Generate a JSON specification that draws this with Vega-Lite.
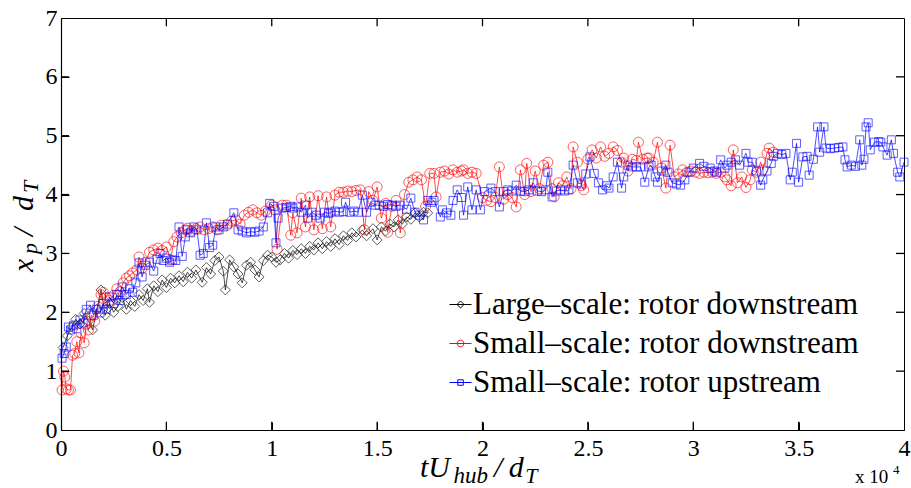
{
  "$schema": "https://vega.github.io/schema/vega-lite/v6.json",
  "width": 843,
  "height": 412,
  "autosize": {"type": "none"},
  "padding": {"left": 61, "top": 18, "right": 7, "bottom": 58},
  "background": "white",
  "config": {
    "view": {"stroke": "black", "strokeWidth": 1},
    "axis": {"grid": false, "ticks": true, "labelFont": "Liberation Serif", "labelFontSize": 24, "labelColor": "black", "domainColor": "black", "tickColor": "black", "domainWidth": 1.2, "tickWidth": 1}
  },
  "datasets": {
    "black": [
      {"t":0.01,"xp":1.40},{"t":0.03,"xp":1.60},{"t":0.05,"xp":1.75},{"t":0.07,"xp":1.88},{"t":0.09,"xp":1.80},{"t":0.11,"xp":1.98},{"t":0.13,"xp":1.85},{"t":0.15,"xp":1.70},{"t":0.17,"xp":2.05},{"t":0.19,"xp":2.38},
      {"t":0.21,"xp":1.95},{"t":0.23,"xp":2.15},{"t":0.25,"xp":2.00},{"t":0.27,"xp":2.10},{"t":0.29,"xp":2.25},{"t":0.31,"xp":2.05},{"t":0.33,"xp":2.20},{"t":0.35,"xp":2.10},{"t":0.37,"xp":2.30},{"t":0.39,"xp":2.20},
      {"t":0.41,"xp":2.40},{"t":0.42,"xp":2.17},{"t":0.44,"xp":2.45},{"t":0.46,"xp":2.35},{"t":0.48,"xp":2.55},{"t":0.50,"xp":2.42},{"t":0.52,"xp":2.58},{"t":0.54,"xp":2.50},{"t":0.56,"xp":2.62},{"t":0.58,"xp":2.52},
      {"t":0.60,"xp":2.68},{"t":0.62,"xp":2.58},{"t":0.64,"xp":2.72},{"t":0.67,"xp":2.51},{"t":0.69,"xp":2.76},{"t":0.71,"xp":2.65},{"t":0.73,"xp":2.88},{"t":0.75,"xp":2.94},{"t":0.77,"xp":2.70},{"t":0.78,"xp":2.38},
      {"t":0.80,"xp":2.89},{"t":0.82,"xp":2.77},{"t":0.84,"xp":2.65},{"t":0.86,"xp":2.50},{"t":0.88,"xp":2.80},{"t":0.90,"xp":2.85},{"t":0.92,"xp":2.72},{"t":0.94,"xp":2.60},{"t":0.96,"xp":2.88},{"t":0.98,"xp":2.97},
      {"t":1.00,"xp":2.94},{"t":1.02,"xp":2.85},{"t":1.04,"xp":2.89},{"t":1.06,"xp":3.00},{"t":1.08,"xp":2.92},{"t":1.10,"xp":3.05},{"t":1.12,"xp":2.98},{"t":1.14,"xp":3.08},{"t":1.16,"xp":3.00},{"t":1.18,"xp":3.12},
      {"t":1.20,"xp":3.06},{"t":1.22,"xp":3.18},{"t":1.24,"xp":3.08},{"t":1.26,"xp":3.20},{"t":1.28,"xp":3.12},{"t":1.30,"xp":3.25},{"t":1.32,"xp":3.15},{"t":1.34,"xp":3.30},{"t":1.36,"xp":3.22},{"t":1.38,"xp":3.35},
      {"t":1.40,"xp":3.28},{"t":1.43,"xp":3.40},{"t":1.45,"xp":3.30},{"t":1.48,"xp":3.42},{"t":1.50,"xp":3.23},{"t":1.52,"xp":3.45},{"t":1.54,"xp":3.38},{"t":1.56,"xp":3.50},{"t":1.58,"xp":3.45},{"t":1.60,"xp":3.57},
      {"t":1.62,"xp":3.50},{"t":1.64,"xp":3.62},{"t":1.66,"xp":3.58},{"t":1.68,"xp":3.69},{"t":1.70,"xp":3.62},{"t":1.72,"xp":3.70},{"t":1.74,"xp":3.69}
    ],
    "red": [
      {"t":0.005,"xp":0.68},{"t":0.012,"xp":1.00},{"t":0.018,"xp":0.90},{"t":0.025,"xp":0.70},{"t":0.035,"xp":0.68},{"t":0.045,"xp":0.68},{"t":0.055,"xp":1.27},{"t":0.065,"xp":1.30},{"t":0.075,"xp":1.50},{"t":0.085,"xp":1.31},
      {"t":0.095,"xp":1.65},{"t":0.11,"xp":1.48},{"t":0.12,"xp":1.80},{"t":0.13,"xp":1.70},{"t":0.145,"xp":1.95},{"t":0.16,"xp":1.85},{"t":0.175,"xp":2.10},{"t":0.19,"xp":2.30},{"t":0.20,"xp":2.34},{"t":0.215,"xp":2.25},
      {"t":0.23,"xp":2.20},{"t":0.25,"xp":2.29},{"t":0.265,"xp":2.40},{"t":0.28,"xp":2.35},{"t":0.295,"xp":2.50},{"t":0.31,"xp":2.58},{"t":0.325,"xp":2.62},{"t":0.34,"xp":2.67},{"t":0.36,"xp":2.72},{"t":0.37,"xp":2.94},
      {"t":0.385,"xp":2.75},{"t":0.40,"xp":2.85},{"t":0.42,"xp":3.02},{"t":0.44,"xp":3.06},{"t":0.46,"xp":3.09},{"t":0.48,"xp":3.05},{"t":0.50,"xp":3.11},{"t":0.52,"xp":2.89},{"t":0.535,"xp":3.20},{"t":0.55,"xp":3.28},
      {"t":0.57,"xp":3.35},{"t":0.59,"xp":3.40},{"t":0.60,"xp":3.43},{"t":0.62,"xp":3.38},{"t":0.64,"xp":3.42},{"t":0.66,"xp":3.45},{"t":0.68,"xp":3.40},{"t":0.70,"xp":3.42},{"t":0.72,"xp":3.45},{"t":0.74,"xp":3.40},
      {"t":0.76,"xp":3.48},{"t":0.79,"xp":3.48},{"t":0.81,"xp":3.55},{"t":0.83,"xp":3.57},{"t":0.85,"xp":3.50},{"t":0.87,"xp":3.65},{"t":0.89,"xp":3.70},{"t":0.91,"xp":3.74},{"t":0.93,"xp":3.69},{"t":0.95,"xp":3.65},
      {"t":0.97,"xp":3.72},{"t":1.00,"xp":3.82},{"t":1.015,"xp":3.74},{"t":1.025,"xp":3.07},{"t":1.05,"xp":3.82},{"t":1.07,"xp":3.82},{"t":1.09,"xp":3.31},{"t":1.10,"xp":3.69},{"t":1.12,"xp":3.35},{"t":1.14,"xp":3.94},
      {"t":1.16,"xp":3.45},{"t":1.18,"xp":3.96},{"t":1.20,"xp":3.40},{"t":1.22,"xp":3.98},{"t":1.24,"xp":3.42},{"t":1.26,"xp":3.96},{"t":1.28,"xp":3.45},{"t":1.30,"xp":3.99},{"t":1.32,"xp":4.04},{"t":1.34,"xp":4.04},
      {"t":1.36,"xp":4.06},{"t":1.38,"xp":4.05},{"t":1.40,"xp":4.07},{"t":1.42,"xp":4.08},{"t":1.44,"xp":3.40},{"t":1.46,"xp":4.05},{"t":1.48,"xp":3.90},{"t":1.50,"xp":4.13},{"t":1.52,"xp":3.60},{"t":1.54,"xp":3.85},
      {"t":1.55,"xp":3.36},{"t":1.57,"xp":3.80},{"t":1.59,"xp":3.90},{"t":1.61,"xp":3.35},{"t":1.63,"xp":4.00},{"t":1.65,"xp":4.21},{"t":1.67,"xp":4.25},{"t":1.69,"xp":4.30},{"t":1.71,"xp":4.25},{"t":1.73,"xp":3.80},
      {"t":1.75,"xp":4.36},{"t":1.77,"xp":4.36},{"t":1.78,"xp":3.96},{"t":1.80,"xp":4.38},{"t":1.82,"xp":4.40},{"t":1.84,"xp":4.35},{"t":1.86,"xp":4.42},{"t":1.88,"xp":4.38},{"t":1.90,"xp":4.40},{"t":1.91,"xp":4.42},
      {"t":1.93,"xp":4.36},{"t":1.95,"xp":4.38},{"t":1.97,"xp":4.36},{"t":2.00,"xp":3.95},{"t":2.02,"xp":3.90},{"t":2.04,"xp":3.88},{"t":2.06,"xp":3.95},{"t":2.08,"xp":4.47},{"t":2.10,"xp":3.92},{"t":2.12,"xp":4.00},
      {"t":2.14,"xp":3.95},{"t":2.16,"xp":3.79},{"t":2.18,"xp":4.42},{"t":2.20,"xp":4.00},{"t":2.21,"xp":4.53},{"t":2.23,"xp":4.05},{"t":2.25,"xp":4.40},{"t":2.27,"xp":4.10},{"t":2.29,"xp":4.50},{"t":2.31,"xp":4.55},
      {"t":2.33,"xp":4.10},{"t":2.34,"xp":3.96},{"t":2.36,"xp":4.20},{"t":2.38,"xp":4.15},{"t":2.40,"xp":4.30},{"t":2.42,"xp":4.10},{"t":2.43,"xp":4.81},{"t":2.45,"xp":4.55},{"t":2.47,"xp":4.15},{"t":2.48,"xp":4.08},
      {"t":2.50,"xp":4.60},{"t":2.52,"xp":4.76},{"t":2.54,"xp":4.62},{"t":2.56,"xp":4.81},{"t":2.58,"xp":4.65},{"t":2.60,"xp":4.70},{"t":2.62,"xp":4.81},{"t":2.64,"xp":4.75},{"t":2.66,"xp":4.55},{"t":2.67,"xp":4.62},
      {"t":2.69,"xp":4.40},{"t":2.71,"xp":4.60},{"t":2.73,"xp":4.58},{"t":2.74,"xp":4.89},{"t":2.76,"xp":4.60},{"t":2.78,"xp":4.62},{"t":2.79,"xp":4.62},{"t":2.81,"xp":4.55},{"t":2.83,"xp":4.89},{"t":2.85,"xp":4.45},
      {"t":2.87,"xp":4.11},{"t":2.89,"xp":4.84},{"t":2.91,"xp":4.30},{"t":2.93,"xp":4.35},{"t":2.95,"xp":4.42},{"t":2.97,"xp":4.38},{"t":2.99,"xp":4.40},{"t":3.01,"xp":4.38},{"t":3.03,"xp":4.36},{"t":3.05,"xp":4.38},
      {"t":3.07,"xp":4.37},{"t":3.09,"xp":4.38},{"t":3.11,"xp":4.36},{"t":3.13,"xp":4.38},{"t":3.15,"xp":4.30},{"t":3.16,"xp":4.25},{"t":3.18,"xp":4.15},{"t":3.19,"xp":4.76},{"t":3.21,"xp":4.20},{"t":3.23,"xp":4.30},
      {"t":3.25,"xp":4.12},{"t":3.27,"xp":4.25},{"t":3.28,"xp":4.42},{"t":3.30,"xp":4.38},{"t":3.32,"xp":4.55},{"t":3.33,"xp":4.42},{"t":3.35,"xp":4.70},{"t":3.36,"xp":4.79},{"t":3.38,"xp":4.72}
    ],
    "blue": [
      {"t":0.005,"xp":1.22},{"t":0.015,"xp":1.30},{"t":0.025,"xp":1.41},{"t":0.035,"xp":1.75},{"t":0.045,"xp":1.70},{"t":0.06,"xp":1.78},{"t":0.075,"xp":1.72},{"t":0.09,"xp":1.87},{"t":0.105,"xp":1.82},{"t":0.12,"xp":2.05},
      {"t":0.14,"xp":2.12},{"t":0.155,"xp":1.95},{"t":0.17,"xp":2.05},{"t":0.185,"xp":1.99},{"t":0.20,"xp":2.15},{"t":0.215,"xp":2.05},{"t":0.23,"xp":2.26},{"t":0.25,"xp":2.15},{"t":0.265,"xp":2.30},{"t":0.28,"xp":2.20},
      {"t":0.29,"xp":2.43},{"t":0.31,"xp":2.30},{"t":0.325,"xp":2.40},{"t":0.34,"xp":2.34},{"t":0.355,"xp":2.50},{"t":0.37,"xp":2.84},{"t":0.385,"xp":2.60},{"t":0.40,"xp":2.80},{"t":0.42,"xp":2.85},{"t":0.44,"xp":2.70},
      {"t":0.455,"xp":2.90},{"t":0.47,"xp":3.00},{"t":0.485,"xp":2.88},{"t":0.50,"xp":2.92},{"t":0.515,"xp":2.85},{"t":0.53,"xp":2.89},{"t":0.545,"xp":2.88},{"t":0.56,"xp":3.45},{"t":0.575,"xp":2.95},{"t":0.59,"xp":3.28},
      {"t":0.60,"xp":3.40},{"t":0.615,"xp":3.35},{"t":0.63,"xp":3.45},{"t":0.645,"xp":3.40},{"t":0.66,"xp":2.97},{"t":0.675,"xp":3.00},{"t":0.69,"xp":3.52},{"t":0.705,"xp":3.10},{"t":0.72,"xp":3.14},{"t":0.735,"xp":3.45},
      {"t":0.75,"xp":3.40},{"t":0.77,"xp":3.45},{"t":0.79,"xp":3.50},{"t":0.82,"xp":3.69},{"t":0.84,"xp":3.40},{"t":0.86,"xp":3.38},{"t":0.88,"xp":3.35},{"t":0.90,"xp":3.37},{"t":0.92,"xp":3.36},{"t":0.94,"xp":3.38},
      {"t":0.96,"xp":3.45},{"t":0.98,"xp":3.69},{"t":0.99,"xp":3.85},{"t":1.01,"xp":3.80},{"t":1.02,"xp":3.18},{"t":1.03,"xp":3.60},{"t":1.05,"xp":3.77},{"t":1.07,"xp":3.78},{"t":1.09,"xp":3.80},{"t":1.10,"xp":3.77},
      {"t":1.12,"xp":3.79},{"t":1.14,"xp":3.70},{"t":1.16,"xp":3.82},{"t":1.17,"xp":3.60},{"t":1.19,"xp":3.70},{"t":1.21,"xp":3.65},{"t":1.23,"xp":3.60},{"t":1.25,"xp":3.70},{"t":1.27,"xp":3.68},{"t":1.28,"xp":3.70},
      {"t":1.30,"xp":3.72},{"t":1.32,"xp":3.70},{"t":1.34,"xp":3.71},{"t":1.35,"xp":3.87},{"t":1.37,"xp":3.70},{"t":1.39,"xp":3.72},{"t":1.41,"xp":3.70},{"t":1.43,"xp":3.99},{"t":1.45,"xp":3.70},{"t":1.47,"xp":3.87},
      {"t":1.49,"xp":3.82},{"t":1.51,"xp":3.82},{"t":1.53,"xp":3.80},{"t":1.55,"xp":3.83},{"t":1.57,"xp":3.82},{"t":1.59,"xp":3.80},{"t":1.61,"xp":3.82},{"t":1.64,"xp":3.75},{"t":1.66,"xp":3.94},{"t":1.68,"xp":3.70},
      {"t":1.70,"xp":3.65},{"t":1.72,"xp":3.57},{"t":1.74,"xp":3.90},{"t":1.76,"xp":3.87},{"t":1.77,"xp":3.90},{"t":1.80,"xp":3.62},{"t":1.81,"xp":3.74},{"t":1.83,"xp":3.69},{"t":1.85,"xp":3.65},{"t":1.86,"xp":3.90},
      {"t":1.88,"xp":4.08},{"t":1.90,"xp":3.95},{"t":1.91,"xp":3.65},{"t":1.93,"xp":4.13},{"t":1.95,"xp":3.74},{"t":1.97,"xp":4.08},{"t":1.99,"xp":3.74},{"t":2.01,"xp":4.05},{"t":2.04,"xp":4.11},{"t":2.06,"xp":4.05},
      {"t":2.08,"xp":3.79},{"t":2.10,"xp":4.05},{"t":2.12,"xp":4.08},{"t":2.14,"xp":4.06},{"t":2.16,"xp":4.16},{"t":2.18,"xp":4.06},{"t":2.20,"xp":4.05},{"t":2.22,"xp":4.08},{"t":2.24,"xp":4.20},{"t":2.26,"xp":4.06},
      {"t":2.28,"xp":4.05},{"t":2.30,"xp":4.08},{"t":2.31,"xp":4.38},{"t":2.33,"xp":3.96},{"t":2.35,"xp":4.06},{"t":2.37,"xp":4.08},{"t":2.39,"xp":4.06},{"t":2.41,"xp":4.08},{"t":2.43,"xp":4.50},{"t":2.45,"xp":4.20},
      {"t":2.47,"xp":4.18},{"t":2.49,"xp":4.35},{"t":2.51,"xp":4.64},{"t":2.53,"xp":4.36},{"t":2.55,"xp":4.20},{"t":2.57,"xp":4.08},{"t":2.59,"xp":4.15},{"t":2.60,"xp":4.11},{"t":2.62,"xp":4.30},{"t":2.64,"xp":4.55},
      {"t":2.66,"xp":4.11},{"t":2.67,"xp":4.30},{"t":2.69,"xp":4.50},{"t":2.71,"xp":4.47},{"t":2.73,"xp":4.47},{"t":2.75,"xp":4.47},{"t":2.77,"xp":4.21},{"t":2.79,"xp":4.47},{"t":2.80,"xp":4.50},{"t":2.82,"xp":4.30},
      {"t":2.83,"xp":4.21},{"t":2.85,"xp":4.40},{"t":2.87,"xp":4.50},{"t":2.88,"xp":4.38},{"t":2.90,"xp":4.20},{"t":2.92,"xp":4.18},{"t":2.94,"xp":4.16},{"t":2.96,"xp":4.25},{"t":2.98,"xp":4.38},{"t":3.00,"xp":4.45},
      {"t":3.03,"xp":4.53},{"t":3.05,"xp":4.48},{"t":3.08,"xp":4.45},{"t":3.10,"xp":4.40},{"t":3.11,"xp":4.38},{"t":3.13,"xp":4.59},{"t":3.15,"xp":4.45},{"t":3.16,"xp":4.50},{"t":3.18,"xp":4.55},{"t":3.20,"xp":4.59},
      {"t":3.22,"xp":4.50},{"t":3.25,"xp":4.70},{"t":3.26,"xp":4.55},{"t":3.28,"xp":4.55},{"t":3.30,"xp":4.40},{"t":3.32,"xp":4.16},{"t":3.33,"xp":4.25},{"t":3.35,"xp":4.40},{"t":3.37,"xp":4.53},{"t":3.38,"xp":4.65},
      {"t":3.40,"xp":4.70},{"t":3.42,"xp":4.68},{"t":3.44,"xp":4.70},{"t":3.46,"xp":4.25},{"t":3.47,"xp":4.38},{"t":3.49,"xp":4.87},{"t":3.50,"xp":4.21},{"t":3.52,"xp":4.64},{"t":3.54,"xp":4.65},{"t":3.55,"xp":4.33},
      {"t":3.57,"xp":4.60},{"t":3.59,"xp":5.15},{"t":3.60,"xp":4.72},{"t":3.62,"xp":5.15},{"t":3.63,"xp":4.79},{"t":3.65,"xp":4.78},{"t":3.67,"xp":4.79},{"t":3.69,"xp":4.80},{"t":3.71,"xp":4.81},{"t":3.72,"xp":4.59},
      {"t":3.73,"xp":4.47},{"t":3.75,"xp":4.50},{"t":3.77,"xp":4.48},{"t":3.79,"xp":4.93},{"t":3.80,"xp":4.50},{"t":3.81,"xp":4.60},{"t":3.82,"xp":5.15},{"t":3.83,"xp":5.22},{"t":3.84,"xp":4.76},{"t":3.86,"xp":4.89},
      {"t":3.88,"xp":4.90},{"t":3.89,"xp":4.89},{"t":3.90,"xp":4.81},{"t":3.92,"xp":4.67},{"t":3.94,"xp":4.93},{"t":3.95,"xp":4.70},{"t":3.97,"xp":4.38},{"t":3.98,"xp":4.30},{"t":4.00,"xp":4.55}
    ],
    "xticks": [{"v":0.5},{"v":1},{"v":1.5},{"v":2},{"v":2.5},{"v":3},{"v":3.5}],
    "yticks": [{"v":1},{"v":2},{"v":3},{"v":4},{"v":5},{"v":6}]
  },
  "layer": [
    {"data": {"name": "black"}, "mark": {"type": "line", "strokeWidth": 0.7},
     "encoding": {
        "x": {"field": "t", "type": "quantitative", "scale": {"domain": [0, 4], "nice": false, "zero": false}, "axis": {"orient": "bottom", "title": null, "values": [0, 0.5, 1, 1.5, 2, 2.5, 3, 3.5, 4], "format": "~g", "ticks": true, "tickSize": -8, "labelPadding": 14, "labelFlush": false}},
        "y": {"field": "xp", "type": "quantitative", "scale": {"domain": [0, 7], "nice": false, "zero": false}, "axis": {"orient": "left", "title": null, "values": [0, 1, 2, 3, 4, 5, 6, 7], "format": "~g", "ticks": true, "tickSize": -8, "labelPadding": 12, "labelFlush": false}},
        "color": {"datum": "Large–scale: rotor downstream", "type": "nominal",
        "scale": {"domain": ["Large–scale: rotor downstream", "Small–scale: rotor downstream", "Small–scale: rotor upstream"], "range": ["#000000", "#ff0000", "#0000ff"]},
        "legend": {"orient": "none", "legendX": 384, "legendY": 271, "title": null, "padding": 0, "labelFont": "Liberation Serif", "labelFontSize": 31, "labelColor": "black", "labelLimit": 700, "labelOffset": -3, "rowPadding": 7, "symbolSize": 484, "symbolStrokeWidth": 1,
          "encode": {"symbols": {"update": {
            "shape": {"signal": "datum.value === 'Large–scale: rotor downstream' ? 'M-1,0L1,0M0,-0.32L0.32,0L0,0.32L-0.32,0Z' : (datum.value === 'Small–scale: rotor upstream' ? 'M-1,0L1,0M-0.25,-0.25L0.25,-0.25L0.25,0.25L-0.25,0.25Z' : 'M-1,0L1,0M-0.3,0A0.3,0.3,0,1,0,0.3,0A0.3,0.3,0,1,0,-0.3,0')"},
            "fill": {"value": "transparent"},
            "strokeWidth": {"value": 1}
          }}}}}}},
    {"data": {"name": "black"}, "mark": {"type": "point", "shape": "diamond", "filled": false, "size": 100, "strokeWidth": 0.9},
     "encoding": {"x": {"field": "t", "type": "quantitative"}, "y": {"field": "xp", "type": "quantitative"}, "color": {"datum": "Large–scale: rotor downstream", "type": "nominal"}}},
    {"data": {"name": "red"}, "mark": {"type": "line", "strokeWidth": 0.7},
     "encoding": {"x": {"field": "t", "type": "quantitative"}, "y": {"field": "xp", "type": "quantitative"}, "color": {"datum": "Small–scale: rotor downstream", "type": "nominal"}}},
    {"data": {"name": "red"}, "mark": {"type": "point", "shape": "circle", "filled": false, "size": 100, "strokeWidth": 0.9},
     "encoding": {"x": {"field": "t", "type": "quantitative"}, "y": {"field": "xp", "type": "quantitative"}, "color": {"datum": "Small–scale: rotor downstream", "type": "nominal"}}},
    {"data": {"name": "blue"}, "mark": {"type": "line", "strokeWidth": 0.7},
     "encoding": {"x": {"field": "t", "type": "quantitative"}, "y": {"field": "xp", "type": "quantitative"}, "color": {"datum": "Small–scale: rotor upstream", "type": "nominal"}}},
    {"data": {"name": "blue"}, "mark": {"type": "point", "shape": "square", "filled": false, "size": 64, "strokeWidth": 0.9},
     "encoding": {"x": {"field": "t", "type": "quantitative"}, "y": {"field": "xp", "type": "quantitative"}, "color": {"datum": "Small–scale: rotor upstream", "type": "nominal"}}},
    {"data": {"name": "xticks"}, "mark": {"type": "rule", "stroke": "#000000", "strokeWidth": 1.3, "opacity": 1},
     "encoding": {"x": {"field": "v", "type": "quantitative"}, "y": {"datum": 7, "type": "quantitative"}, "y2": {"datum": 6.86}}},
    {"data": {"name": "xticks"}, "mark": {"type": "rule", "stroke": "#000000", "strokeWidth": 1.3, "opacity": 1},
     "encoding": {"x": {"field": "v", "type": "quantitative"}, "y": {"datum": 0, "type": "quantitative"}, "y2": {"datum": 0.14}}},
    {"data": {"name": "yticks"}, "mark": {"type": "rule", "stroke": "#000000", "strokeWidth": 1.3, "opacity": 1},
     "encoding": {"y": {"field": "v", "type": "quantitative"}, "x": {"datum": 4, "type": "quantitative"}, "x2": {"datum": 3.962}}},
    {"data": {"name": "yticks"}, "mark": {"type": "rule", "stroke": "#000000", "strokeWidth": 1.3, "opacity": 1},
     "encoding": {"y": {"field": "v", "type": "quantitative"}, "x": {"datum": 0, "type": "quantitative"}, "x2": {"datum": 0.038}}},
    {"data": {"values": [{"label": "tU"}]}, "mark": {"type": "text", "font": "Liberation Serif", "fontStyle": "italic", "fontSize": 30, "align": "left", "baseline": "alphabetic", "color": "black"},
     "encoding": {"x": {"datum": 1.703, "type": "quantitative"}, "y": {"datum": -0.80, "type": "quantitative"}, "text": {"field": "label"}}},
    {"data": {"values": [{"label": "hub"}]}, "mark": {"type": "text", "font": "Liberation Serif", "fontStyle": "italic", "fontSize": 23, "align": "left", "baseline": "alphabetic", "color": "black"},
     "encoding": {"x": {"datum": 1.862, "type": "quantitative"}, "y": {"datum": -0.90, "type": "quantitative"}, "text": {"field": "label"}}},
    {"data": {"values": [{"label": "/"}]}, "mark": {"type": "text", "font": "Liberation Serif", "fontStyle": "italic", "fontSize": 30, "align": "left", "baseline": "alphabetic", "color": "black"},
     "encoding": {"x": {"datum": 2.055, "type": "quantitative"}, "y": {"datum": -0.80, "type": "quantitative"}, "text": {"field": "label"}}},
    {"data": {"values": [{"label": "d"}]}, "mark": {"type": "text", "font": "Liberation Serif", "fontStyle": "italic", "fontSize": 30, "align": "left", "baseline": "alphabetic", "color": "black"},
     "encoding": {"x": {"datum": 2.125, "type": "quantitative"}, "y": {"datum": -0.80, "type": "quantitative"}, "text": {"field": "label"}}},
    {"data": {"values": [{"label": "T"}]}, "mark": {"type": "text", "font": "Liberation Serif", "fontStyle": "italic", "fontSize": 22, "align": "left", "baseline": "alphabetic", "color": "black"},
     "encoding": {"x": {"datum": 2.203, "type": "quantitative"}, "y": {"datum": -0.90, "type": "quantitative"}, "text": {"field": "label"}}},
    {"data": {"values": [{"label": "x 10"}]}, "mark": {"type": "text", "font": "Liberation Serif", "fontSize": 19, "align": "left", "baseline": "alphabetic", "color": "black"},
     "encoding": {"x": {"datum": 3.767, "type": "quantitative"}, "y": {"datum": -0.90, "type": "quantitative"}, "text": {"field": "label"}}},
    {"data": {"values": [{"label": "4"}]}, "mark": {"type": "text", "font": "Liberation Serif", "fontSize": 13, "align": "left", "baseline": "alphabetic", "color": "black"},
     "encoding": {"x": {"datum": 3.948, "type": "quantitative"}, "y": {"datum": -0.745, "type": "quantitative"}, "text": {"field": "label"}}},
    {"data": {"values": [{"label": "x"}]}, "mark": {"type": "text", "font": "Liberation Serif", "fontStyle": "italic", "fontSize": 30, "align": "left", "baseline": "alphabetic", "angle": 270, "color": "black"},
     "encoding": {"x": {"datum": -0.133, "type": "quantitative"}, "y": {"datum": 2.684, "type": "quantitative"}, "text": {"field": "label"}}},
    {"data": {"values": [{"label": "p"}]}, "mark": {"type": "text", "font": "Liberation Serif", "fontStyle": "italic", "fontSize": 22, "align": "left", "baseline": "alphabetic", "angle": 270, "color": "black"},
     "encoding": {"x": {"datum": -0.114, "type": "quantitative"}, "y": {"datum": 2.99, "type": "quantitative"}, "text": {"field": "label"}}},
    {"data": {"values": [{"label": "/"}]}, "mark": {"type": "text", "font": "Liberation Serif", "fontStyle": "italic", "fontSize": 30, "align": "left", "baseline": "alphabetic", "angle": 270, "color": "black"},
     "encoding": {"x": {"datum": -0.133, "type": "quantitative"}, "y": {"datum": 3.296, "type": "quantitative"}, "text": {"field": "label"}}},
    {"data": {"values": [{"label": "d"}]}, "mark": {"type": "text", "font": "Liberation Serif", "fontStyle": "italic", "fontSize": 30, "align": "left", "baseline": "alphabetic", "angle": 270, "color": "black"},
     "encoding": {"x": {"datum": -0.133, "type": "quantitative"}, "y": {"datum": 3.721, "type": "quantitative"}, "text": {"field": "label"}}},
    {"data": {"values": [{"label": "T"}]}, "mark": {"type": "text", "font": "Liberation Serif", "fontStyle": "italic", "fontSize": 22, "align": "left", "baseline": "alphabetic", "angle": 270, "color": "black"},
     "encoding": {"x": {"datum": -0.109, "type": "quantitative"}, "y": {"datum": 4.027, "type": "quantitative"}, "text": {"field": "label"}}}
  ]
}
